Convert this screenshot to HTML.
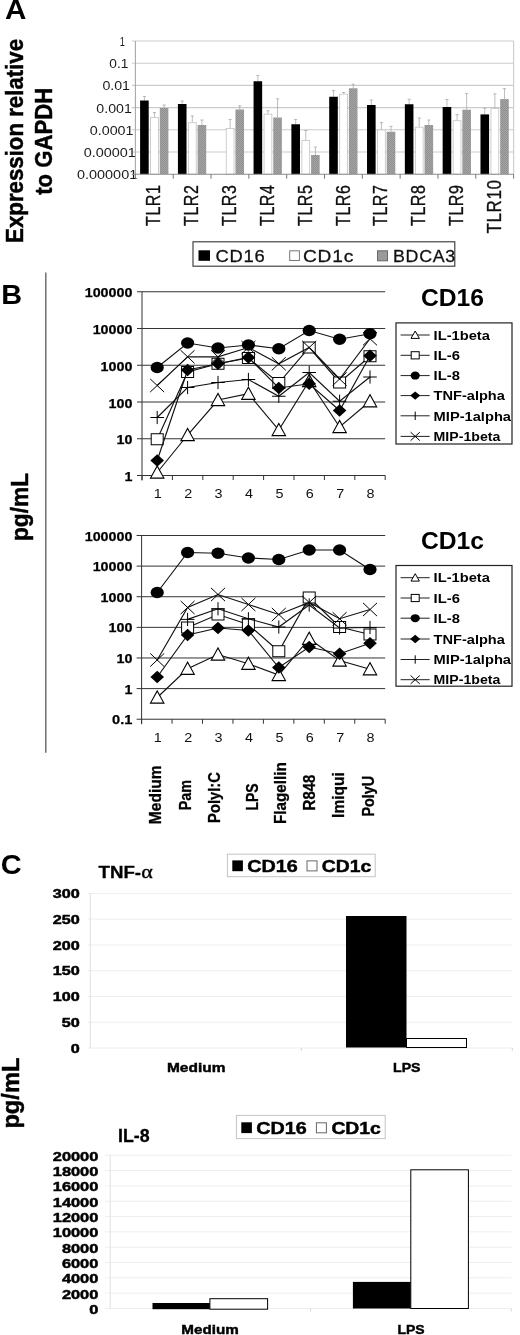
<!DOCTYPE html>
<html><head><meta charset="utf-8"><title>Figure</title>
<style>
html,body{margin:0;padding:0;background:#fff;}
body{width:520px;height:1335px;overflow:hidden;font-family:"Liberation Sans",sans-serif;}
svg{display:block;filter:blur(0.4px);}
</style></head><body>
<svg width="520" height="1335" viewBox="0 0 520 1335">
<rect width="520" height="1335" fill="#fff"/>
<text x="4.90" y="19.40" font-family="Liberation Sans" font-size="27" font-weight="bold" text-anchor="start" fill="#000" textLength="21.40" lengthAdjust="spacingAndGlyphs">A</text>
<text transform="translate(23.40,140.90) rotate(-90)" font-family="Liberation Sans" font-size="24" font-weight="bold" text-anchor="middle" fill="#000" textLength="204.00" lengthAdjust="spacingAndGlyphs" stroke="#000" stroke-width="0.45">Expression relative</text>
<text transform="translate(51.60,141.30) rotate(-90)" font-family="Liberation Sans" font-size="24" font-weight="bold" text-anchor="middle" fill="#000" textLength="107.00" lengthAdjust="spacingAndGlyphs" stroke="#000" stroke-width="0.45">to GAPDH</text>
<line x1="131.80" y1="41.00" x2="513.60" y2="41.00" stroke="#cbcbcb" stroke-width="1.1"/>
<text x="119.70" y="46.00" font-family="Liberation Sans" font-size="12" font-weight="normal" text-anchor="start" fill="#1a1a1a" textLength="5.20" lengthAdjust="spacingAndGlyphs">1</text>
<line x1="131.80" y1="63.20" x2="513.60" y2="63.20" stroke="#cbcbcb" stroke-width="1.1"/>
<text x="109.30" y="68.20" font-family="Liberation Sans" font-size="12" font-weight="normal" text-anchor="start" fill="#1a1a1a" textLength="19.00" lengthAdjust="spacingAndGlyphs">0.1</text>
<line x1="131.80" y1="85.40" x2="513.60" y2="85.40" stroke="#cbcbcb" stroke-width="1.1"/>
<text x="102.40" y="90.40" font-family="Liberation Sans" font-size="12" font-weight="normal" text-anchor="start" fill="#1a1a1a" textLength="27.60" lengthAdjust="spacingAndGlyphs">0.01</text>
<line x1="131.80" y1="107.60" x2="513.60" y2="107.60" stroke="#cbcbcb" stroke-width="1.1"/>
<text x="96.30" y="112.60" font-family="Liberation Sans" font-size="12" font-weight="normal" text-anchor="start" fill="#1a1a1a" textLength="35.50" lengthAdjust="spacingAndGlyphs">0.001</text>
<line x1="131.80" y1="129.80" x2="513.60" y2="129.80" stroke="#cbcbcb" stroke-width="1.1"/>
<text x="89.80" y="134.80" font-family="Liberation Sans" font-size="12" font-weight="normal" text-anchor="start" fill="#1a1a1a" textLength="43.70" lengthAdjust="spacingAndGlyphs">0.0001</text>
<line x1="131.80" y1="152.00" x2="513.60" y2="152.00" stroke="#cbcbcb" stroke-width="1.1"/>
<text x="83.70" y="157.00" font-family="Liberation Sans" font-size="12" font-weight="normal" text-anchor="start" fill="#1a1a1a" textLength="52.10" lengthAdjust="spacingAndGlyphs">0.00001</text>
<text x="77.00" y="179.20" font-family="Liberation Sans" font-size="12" font-weight="normal" text-anchor="start" fill="#1a1a1a" textLength="60.20" lengthAdjust="spacingAndGlyphs">0.000001</text>
<line x1="513.60" y1="41.00" x2="513.60" y2="174.20" stroke="#cfcfcf" stroke-width="1.2"/>
<defs><pattern id="hatch" width="2" height="2" patternUnits="userSpaceOnUse"><rect width="2" height="2" fill="#a4a4a4"/><rect width="1" height="1" fill="#909090"/><rect x="1" y="1" width="1" height="1" fill="#909090"/></pattern></defs>
<line x1="144.40" y1="96.50" x2="144.40" y2="100.50" stroke="#a0a0a0" stroke-width="0.7"/>
<line x1="142.80" y1="96.50" x2="146.00" y2="96.50" stroke="#a0a0a0" stroke-width="0.7"/>
<rect x="140.10" y="100.50" width="8.60" height="73.70" fill="#000"/>
<line x1="154.50" y1="112.50" x2="154.50" y2="117.00" stroke="#a0a0a0" stroke-width="0.7"/>
<line x1="152.90" y1="112.50" x2="156.10" y2="112.50" stroke="#a0a0a0" stroke-width="0.7"/>
<rect x="150.60" y="117.40" width="7.80" height="56.80" fill="#fff" stroke="#c2c2c2" stroke-width="0.8"/>
<line x1="164.10" y1="105.00" x2="164.10" y2="108.00" stroke="#a0a0a0" stroke-width="0.7"/>
<line x1="162.50" y1="105.00" x2="165.70" y2="105.00" stroke="#a0a0a0" stroke-width="0.7"/>
<rect x="159.80" y="108.00" width="8.60" height="66.20" fill="url(#hatch)"/>
<line x1="182.22" y1="101.00" x2="182.22" y2="104.00" stroke="#a0a0a0" stroke-width="0.7"/>
<line x1="180.62" y1="101.00" x2="183.82" y2="101.00" stroke="#a0a0a0" stroke-width="0.7"/>
<rect x="177.92" y="104.00" width="8.60" height="70.20" fill="#000"/>
<line x1="192.32" y1="116.00" x2="192.32" y2="122.30" stroke="#a0a0a0" stroke-width="0.7"/>
<line x1="190.72" y1="116.00" x2="193.92" y2="116.00" stroke="#a0a0a0" stroke-width="0.7"/>
<rect x="188.42" y="122.70" width="7.80" height="51.50" fill="#fff" stroke="#c2c2c2" stroke-width="0.8"/>
<line x1="201.92" y1="120.00" x2="201.92" y2="125.00" stroke="#a0a0a0" stroke-width="0.7"/>
<line x1="200.32" y1="120.00" x2="203.52" y2="120.00" stroke="#a0a0a0" stroke-width="0.7"/>
<rect x="197.62" y="125.00" width="8.60" height="49.20" fill="url(#hatch)"/>
<line x1="230.14" y1="119.50" x2="230.14" y2="128.00" stroke="#a0a0a0" stroke-width="0.7"/>
<line x1="228.54" y1="119.50" x2="231.74" y2="119.50" stroke="#a0a0a0" stroke-width="0.7"/>
<rect x="226.24" y="128.40" width="7.80" height="45.80" fill="#fff" stroke="#c2c2c2" stroke-width="0.8"/>
<line x1="239.74" y1="105.75" x2="239.74" y2="109.50" stroke="#a0a0a0" stroke-width="0.7"/>
<line x1="238.14" y1="105.75" x2="241.34" y2="105.75" stroke="#a0a0a0" stroke-width="0.7"/>
<rect x="235.44" y="109.50" width="8.60" height="64.70" fill="url(#hatch)"/>
<line x1="257.86" y1="75.50" x2="257.86" y2="81.25" stroke="#a0a0a0" stroke-width="0.7"/>
<line x1="256.26" y1="75.50" x2="259.46" y2="75.50" stroke="#a0a0a0" stroke-width="0.7"/>
<rect x="253.56" y="81.25" width="8.60" height="92.95" fill="#000"/>
<line x1="267.96" y1="110.75" x2="267.96" y2="113.75" stroke="#a0a0a0" stroke-width="0.7"/>
<line x1="266.36" y1="110.75" x2="269.56" y2="110.75" stroke="#a0a0a0" stroke-width="0.7"/>
<rect x="264.06" y="114.15" width="7.80" height="60.05" fill="#fff" stroke="#c2c2c2" stroke-width="0.8"/>
<line x1="277.56" y1="98.75" x2="277.56" y2="117.50" stroke="#a0a0a0" stroke-width="0.7"/>
<line x1="275.96" y1="98.75" x2="279.16" y2="98.75" stroke="#a0a0a0" stroke-width="0.7"/>
<rect x="273.26" y="117.50" width="8.60" height="56.70" fill="url(#hatch)"/>
<line x1="295.68" y1="119.50" x2="295.68" y2="124.25" stroke="#a0a0a0" stroke-width="0.7"/>
<line x1="294.08" y1="119.50" x2="297.28" y2="119.50" stroke="#a0a0a0" stroke-width="0.7"/>
<rect x="291.38" y="124.25" width="8.60" height="49.95" fill="#000"/>
<line x1="305.78" y1="130.50" x2="305.78" y2="140.00" stroke="#a0a0a0" stroke-width="0.7"/>
<line x1="304.18" y1="130.50" x2="307.38" y2="130.50" stroke="#a0a0a0" stroke-width="0.7"/>
<rect x="301.88" y="140.40" width="7.80" height="33.80" fill="#fff" stroke="#c2c2c2" stroke-width="0.8"/>
<line x1="315.38" y1="147.00" x2="315.38" y2="155.00" stroke="#a0a0a0" stroke-width="0.7"/>
<line x1="313.78" y1="147.00" x2="316.98" y2="147.00" stroke="#a0a0a0" stroke-width="0.7"/>
<rect x="311.08" y="155.00" width="8.60" height="19.20" fill="url(#hatch)"/>
<line x1="333.50" y1="90.50" x2="333.50" y2="96.75" stroke="#a0a0a0" stroke-width="0.7"/>
<line x1="331.90" y1="90.50" x2="335.10" y2="90.50" stroke="#a0a0a0" stroke-width="0.7"/>
<rect x="329.20" y="96.75" width="8.60" height="77.45" fill="#000"/>
<line x1="343.60" y1="92.50" x2="343.60" y2="93.75" stroke="#a0a0a0" stroke-width="0.7"/>
<line x1="342.00" y1="92.50" x2="345.20" y2="92.50" stroke="#a0a0a0" stroke-width="0.7"/>
<rect x="339.70" y="94.15" width="7.80" height="80.05" fill="#fff" stroke="#c2c2c2" stroke-width="0.8"/>
<line x1="353.20" y1="84.25" x2="353.20" y2="88.25" stroke="#a0a0a0" stroke-width="0.7"/>
<line x1="351.60" y1="84.25" x2="354.80" y2="84.25" stroke="#a0a0a0" stroke-width="0.7"/>
<rect x="348.90" y="88.25" width="8.60" height="85.95" fill="url(#hatch)"/>
<line x1="371.32" y1="100.00" x2="371.32" y2="105.00" stroke="#a0a0a0" stroke-width="0.7"/>
<line x1="369.72" y1="100.00" x2="372.92" y2="100.00" stroke="#a0a0a0" stroke-width="0.7"/>
<rect x="367.02" y="105.00" width="8.60" height="69.20" fill="#000"/>
<line x1="381.42" y1="122.50" x2="381.42" y2="129.50" stroke="#a0a0a0" stroke-width="0.7"/>
<line x1="379.82" y1="122.50" x2="383.02" y2="122.50" stroke="#a0a0a0" stroke-width="0.7"/>
<rect x="377.52" y="129.90" width="7.80" height="44.30" fill="#fff" stroke="#c2c2c2" stroke-width="0.8"/>
<line x1="391.02" y1="126.25" x2="391.02" y2="131.75" stroke="#a0a0a0" stroke-width="0.7"/>
<line x1="389.42" y1="126.25" x2="392.62" y2="126.25" stroke="#a0a0a0" stroke-width="0.7"/>
<rect x="386.72" y="131.75" width="8.60" height="42.45" fill="url(#hatch)"/>
<line x1="409.14" y1="99.25" x2="409.14" y2="104.25" stroke="#a0a0a0" stroke-width="0.7"/>
<line x1="407.54" y1="99.25" x2="410.74" y2="99.25" stroke="#a0a0a0" stroke-width="0.7"/>
<rect x="404.84" y="104.25" width="8.60" height="69.95" fill="#000"/>
<line x1="419.24" y1="118.00" x2="419.24" y2="126.75" stroke="#a0a0a0" stroke-width="0.7"/>
<line x1="417.64" y1="118.00" x2="420.84" y2="118.00" stroke="#a0a0a0" stroke-width="0.7"/>
<rect x="415.34" y="127.15" width="7.80" height="47.05" fill="#fff" stroke="#c2c2c2" stroke-width="0.8"/>
<line x1="428.84" y1="120.00" x2="428.84" y2="125.00" stroke="#a0a0a0" stroke-width="0.7"/>
<line x1="427.24" y1="120.00" x2="430.44" y2="120.00" stroke="#a0a0a0" stroke-width="0.7"/>
<rect x="424.54" y="125.00" width="8.60" height="49.20" fill="url(#hatch)"/>
<line x1="446.96" y1="99.50" x2="446.96" y2="107.00" stroke="#a0a0a0" stroke-width="0.7"/>
<line x1="445.36" y1="99.50" x2="448.56" y2="99.50" stroke="#a0a0a0" stroke-width="0.7"/>
<rect x="442.66" y="107.00" width="8.60" height="67.20" fill="#000"/>
<line x1="457.06" y1="114.60" x2="457.06" y2="120.30" stroke="#a0a0a0" stroke-width="0.7"/>
<line x1="455.46" y1="114.60" x2="458.66" y2="114.60" stroke="#a0a0a0" stroke-width="0.7"/>
<rect x="453.16" y="120.70" width="7.80" height="53.50" fill="#fff" stroke="#c2c2c2" stroke-width="0.8"/>
<line x1="466.66" y1="93.40" x2="466.66" y2="109.70" stroke="#a0a0a0" stroke-width="0.7"/>
<line x1="465.06" y1="93.40" x2="468.26" y2="93.40" stroke="#a0a0a0" stroke-width="0.7"/>
<rect x="462.36" y="109.70" width="8.60" height="64.50" fill="url(#hatch)"/>
<line x1="484.78" y1="108.20" x2="484.78" y2="114.40" stroke="#a0a0a0" stroke-width="0.7"/>
<line x1="483.18" y1="108.20" x2="486.38" y2="108.20" stroke="#a0a0a0" stroke-width="0.7"/>
<rect x="480.48" y="114.40" width="8.60" height="59.80" fill="#000"/>
<line x1="494.88" y1="93.80" x2="494.88" y2="108.20" stroke="#a0a0a0" stroke-width="0.7"/>
<line x1="493.28" y1="93.80" x2="496.48" y2="93.80" stroke="#a0a0a0" stroke-width="0.7"/>
<rect x="490.98" y="108.60" width="7.80" height="65.60" fill="#fff" stroke="#c2c2c2" stroke-width="0.8"/>
<line x1="504.48" y1="88.60" x2="504.48" y2="99.10" stroke="#a0a0a0" stroke-width="0.7"/>
<line x1="502.88" y1="88.60" x2="506.08" y2="88.60" stroke="#a0a0a0" stroke-width="0.7"/>
<rect x="500.18" y="99.10" width="8.60" height="75.10" fill="url(#hatch)"/>
<line x1="135.40" y1="41.00" x2="135.40" y2="174.70" stroke="#a8a8a8" stroke-width="1.1"/>
<line x1="131.80" y1="174.20" x2="513.60" y2="174.20" stroke="#8c8c8c" stroke-width="1.1"/>
<line x1="135.40" y1="174.20" x2="135.40" y2="178.70" stroke="#777" stroke-width="1"/>
<line x1="173.22" y1="174.20" x2="173.22" y2="178.70" stroke="#777" stroke-width="1"/>
<line x1="211.04" y1="174.20" x2="211.04" y2="178.70" stroke="#777" stroke-width="1"/>
<line x1="248.86" y1="174.20" x2="248.86" y2="178.70" stroke="#777" stroke-width="1"/>
<line x1="286.68" y1="174.20" x2="286.68" y2="178.70" stroke="#777" stroke-width="1"/>
<line x1="324.50" y1="174.20" x2="324.50" y2="178.70" stroke="#777" stroke-width="1"/>
<line x1="362.32" y1="174.20" x2="362.32" y2="178.70" stroke="#777" stroke-width="1"/>
<line x1="400.14" y1="174.20" x2="400.14" y2="178.70" stroke="#777" stroke-width="1"/>
<line x1="437.96" y1="174.20" x2="437.96" y2="178.70" stroke="#777" stroke-width="1"/>
<line x1="475.78" y1="174.20" x2="475.78" y2="178.70" stroke="#777" stroke-width="1"/>
<line x1="513.60" y1="174.20" x2="513.60" y2="178.70" stroke="#777" stroke-width="1"/>
<text transform="translate(160.41,205.30) rotate(-90)" font-family="Liberation Sans" font-size="19.8" font-weight="normal" text-anchor="middle" fill="#111" textLength="41.25" lengthAdjust="spacingAndGlyphs" stroke="#111" stroke-width="0.35" letter-spacing="0.6">TLR1</text>
<text transform="translate(198.23,205.30) rotate(-90)" font-family="Liberation Sans" font-size="19.8" font-weight="normal" text-anchor="middle" fill="#111" textLength="41.25" lengthAdjust="spacingAndGlyphs" stroke="#111" stroke-width="0.35" letter-spacing="0.6">TLR2</text>
<text transform="translate(236.05,205.30) rotate(-90)" font-family="Liberation Sans" font-size="19.8" font-weight="normal" text-anchor="middle" fill="#111" textLength="41.25" lengthAdjust="spacingAndGlyphs" stroke="#111" stroke-width="0.35" letter-spacing="0.6">TLR3</text>
<text transform="translate(273.87,205.30) rotate(-90)" font-family="Liberation Sans" font-size="19.8" font-weight="normal" text-anchor="middle" fill="#111" textLength="41.25" lengthAdjust="spacingAndGlyphs" stroke="#111" stroke-width="0.35" letter-spacing="0.6">TLR4</text>
<text transform="translate(311.69,205.30) rotate(-90)" font-family="Liberation Sans" font-size="19.8" font-weight="normal" text-anchor="middle" fill="#111" textLength="41.25" lengthAdjust="spacingAndGlyphs" stroke="#111" stroke-width="0.35" letter-spacing="0.6">TLR5</text>
<text transform="translate(349.51,205.30) rotate(-90)" font-family="Liberation Sans" font-size="19.8" font-weight="normal" text-anchor="middle" fill="#111" textLength="41.25" lengthAdjust="spacingAndGlyphs" stroke="#111" stroke-width="0.35" letter-spacing="0.6">TLR6</text>
<text transform="translate(387.33,205.30) rotate(-90)" font-family="Liberation Sans" font-size="19.8" font-weight="normal" text-anchor="middle" fill="#111" textLength="41.25" lengthAdjust="spacingAndGlyphs" stroke="#111" stroke-width="0.35" letter-spacing="0.6">TLR7</text>
<text transform="translate(425.15,205.30) rotate(-90)" font-family="Liberation Sans" font-size="19.8" font-weight="normal" text-anchor="middle" fill="#111" textLength="41.25" lengthAdjust="spacingAndGlyphs" stroke="#111" stroke-width="0.35" letter-spacing="0.6">TLR8</text>
<text transform="translate(462.97,205.30) rotate(-90)" font-family="Liberation Sans" font-size="19.8" font-weight="normal" text-anchor="middle" fill="#111" textLength="41.25" lengthAdjust="spacingAndGlyphs" stroke="#111" stroke-width="0.35" letter-spacing="0.6">TLR9</text>
<text transform="translate(500.79,206.50) rotate(-90)" font-family="Liberation Sans" font-size="19.8" font-weight="normal" text-anchor="middle" fill="#111" textLength="54.00" lengthAdjust="spacingAndGlyphs" stroke="#111" stroke-width="0.35" letter-spacing="0.6">TLR10</text>
<rect x="193.00" y="241.80" width="261.80" height="24.40" fill="#fff" stroke="#333" stroke-width="1.1"/>
<rect x="198.50" y="250.30" width="11.50" height="10.50" fill="#000"/>
<text x="215.40" y="262.30" font-family="Liberation Sans" font-size="17.4" font-weight="normal" text-anchor="start" fill="#111" textLength="50.00" lengthAdjust="spacingAndGlyphs" stroke="#111" stroke-width="0.3" letter-spacing="0.7">CD16</text>
<rect x="289.70" y="250.80" width="9.70" height="9.70" fill="#fff" stroke="#777" stroke-width="1"/>
<text x="303.00" y="262.30" font-family="Liberation Sans" font-size="17.4" font-weight="normal" text-anchor="start" fill="#111" textLength="51.00" lengthAdjust="spacingAndGlyphs" stroke="#111" stroke-width="0.3" letter-spacing="0.7">CD1c</text>
<rect x="377.50" y="250.80" width="10.00" height="10.00" fill="#9a9a9a" stroke="#666" stroke-width="1"/>
<text x="393.00" y="262.30" font-family="Liberation Sans" font-size="17.4" font-weight="normal" text-anchor="start" fill="#111" textLength="63.00" lengthAdjust="spacingAndGlyphs" stroke="#111" stroke-width="0.3" letter-spacing="0.7">BDCA3</text>
<text x="1.20" y="303.80" font-family="Liberation Sans" font-size="27" font-weight="bold" text-anchor="start" fill="#000" textLength="20.80" lengthAdjust="spacingAndGlyphs">B</text>
<line x1="45.80" y1="272.50" x2="45.80" y2="752.80" stroke="#666" stroke-width="1.4"/>
<text transform="translate(28.30,507.00) rotate(-90)" font-family="Liberation Sans" font-size="24" font-weight="bold" text-anchor="middle" fill="#000" textLength="68.00" lengthAdjust="spacingAndGlyphs" stroke="#000" stroke-width="0.45">pg/mL</text>
<line x1="137.00" y1="291.75" x2="385.20" y2="291.75" stroke="#333" stroke-width="1"/>
<text x="132.40" y="297.25" font-family="Liberation Sans" font-size="13.3" font-weight="bold" text-anchor="end" fill="#000" textLength="47.70" lengthAdjust="spacingAndGlyphs" stroke="#000" stroke-width="0.25">100000</text>
<line x1="137.00" y1="328.50" x2="385.20" y2="328.50" stroke="#333" stroke-width="1"/>
<text x="132.40" y="334.00" font-family="Liberation Sans" font-size="13.3" font-weight="bold" text-anchor="end" fill="#000" textLength="39.75" lengthAdjust="spacingAndGlyphs" stroke="#000" stroke-width="0.25">10000</text>
<line x1="137.00" y1="365.25" x2="385.20" y2="365.25" stroke="#333" stroke-width="1"/>
<text x="132.40" y="370.75" font-family="Liberation Sans" font-size="13.3" font-weight="bold" text-anchor="end" fill="#000" textLength="31.80" lengthAdjust="spacingAndGlyphs" stroke="#000" stroke-width="0.25">1000</text>
<line x1="137.00" y1="402.00" x2="385.20" y2="402.00" stroke="#333" stroke-width="1"/>
<text x="132.40" y="407.50" font-family="Liberation Sans" font-size="13.3" font-weight="bold" text-anchor="end" fill="#000" textLength="23.85" lengthAdjust="spacingAndGlyphs" stroke="#000" stroke-width="0.25">100</text>
<line x1="137.00" y1="438.75" x2="385.20" y2="438.75" stroke="#333" stroke-width="1"/>
<text x="132.40" y="444.25" font-family="Liberation Sans" font-size="13.3" font-weight="bold" text-anchor="end" fill="#000" textLength="15.90" lengthAdjust="spacingAndGlyphs" stroke="#000" stroke-width="0.25">10</text>
<line x1="137.00" y1="475.50" x2="385.20" y2="475.50" stroke="#333" stroke-width="1"/>
<text x="132.40" y="481.00" font-family="Liberation Sans" font-size="13.3" font-weight="bold" text-anchor="end" fill="#000" textLength="7.95" lengthAdjust="spacingAndGlyphs" stroke="#000" stroke-width="0.25">1</text>
<line x1="142.00" y1="291.75" x2="142.00" y2="480.50" stroke="#333" stroke-width="1"/>
<line x1="142.00" y1="475.50" x2="142.00" y2="480.00" stroke="#333" stroke-width="1"/>
<line x1="172.40" y1="475.50" x2="172.40" y2="480.00" stroke="#333" stroke-width="1"/>
<line x1="202.80" y1="475.50" x2="202.80" y2="480.00" stroke="#333" stroke-width="1"/>
<line x1="233.20" y1="475.50" x2="233.20" y2="480.00" stroke="#333" stroke-width="1"/>
<line x1="263.60" y1="475.50" x2="263.60" y2="480.00" stroke="#333" stroke-width="1"/>
<line x1="294.00" y1="475.50" x2="294.00" y2="480.00" stroke="#333" stroke-width="1"/>
<line x1="324.40" y1="475.50" x2="324.40" y2="480.00" stroke="#333" stroke-width="1"/>
<line x1="354.80" y1="475.50" x2="354.80" y2="480.00" stroke="#333" stroke-width="1"/>
<line x1="385.20" y1="475.50" x2="385.20" y2="480.00" stroke="#333" stroke-width="1"/>
<path d="M157.20 472.50 L187.60 435.00 L218.00 400.00 L248.40 393.75 L278.80 430.00 L309.20 381.00 L339.60 427.00 L370.00 401.25" fill="none" stroke="#111" stroke-width="1.15"/>
<path d="M150.50 478.10 L163.90 478.10 L157.20 465.90 Z" fill="#fff" stroke="#000" stroke-width="1.1"/>
<path d="M180.90 440.60 L194.30 440.60 L187.60 428.40 Z" fill="#fff" stroke="#000" stroke-width="1.1"/>
<path d="M211.30 405.60 L224.70 405.60 L218.00 393.40 Z" fill="#fff" stroke="#000" stroke-width="1.1"/>
<path d="M241.70 399.35 L255.10 399.35 L248.40 387.15 Z" fill="#fff" stroke="#000" stroke-width="1.1"/>
<path d="M272.10 435.60 L285.50 435.60 L278.80 423.40 Z" fill="#fff" stroke="#000" stroke-width="1.1"/>
<path d="M302.50 386.60 L315.90 386.60 L309.20 374.40 Z" fill="#fff" stroke="#000" stroke-width="1.1"/>
<path d="M332.90 432.60 L346.30 432.60 L339.60 420.40 Z" fill="#fff" stroke="#000" stroke-width="1.1"/>
<path d="M363.30 406.85 L376.70 406.85 L370.00 394.65 Z" fill="#fff" stroke="#000" stroke-width="1.1"/>
<path d="M157.20 439.25 L187.60 372.00 L218.00 363.75 L248.40 358.00 L278.80 383.00 L309.20 347.50 L339.60 382.50 L370.00 356.25" fill="none" stroke="#111" stroke-width="1.15"/>
<rect x="151.20" y="433.75" width="12.00" height="11.00" fill="#fff" stroke="#000" stroke-width="1"/>
<rect x="181.60" y="366.50" width="12.00" height="11.00" fill="#fff" stroke="#000" stroke-width="1"/>
<rect x="212.00" y="358.25" width="12.00" height="11.00" fill="#fff" stroke="#000" stroke-width="1"/>
<rect x="242.40" y="352.50" width="12.00" height="11.00" fill="#fff" stroke="#000" stroke-width="1"/>
<rect x="272.80" y="377.50" width="12.00" height="11.00" fill="#fff" stroke="#000" stroke-width="1"/>
<rect x="303.20" y="342.00" width="12.00" height="11.00" fill="#fff" stroke="#000" stroke-width="1"/>
<rect x="333.60" y="377.00" width="12.00" height="11.00" fill="#fff" stroke="#000" stroke-width="1"/>
<rect x="364.00" y="350.75" width="12.00" height="11.00" fill="#fff" stroke="#000" stroke-width="1"/>
<path d="M157.20 367.50 L187.60 343.00 L218.00 348.00 L248.40 345.00 L278.80 348.75 L309.20 330.50 L339.60 339.25 L370.00 333.75" fill="none" stroke="#111" stroke-width="1.15"/>
<ellipse cx="157.20" cy="367.50" rx="6.6" ry="5.8" fill="#000"/>
<ellipse cx="187.60" cy="343.00" rx="6.6" ry="5.8" fill="#000"/>
<ellipse cx="218.00" cy="348.00" rx="6.6" ry="5.8" fill="#000"/>
<ellipse cx="248.40" cy="345.00" rx="6.6" ry="5.8" fill="#000"/>
<ellipse cx="278.80" cy="348.75" rx="6.6" ry="5.8" fill="#000"/>
<ellipse cx="309.20" cy="330.50" rx="6.6" ry="5.8" fill="#000"/>
<ellipse cx="339.60" cy="339.25" rx="6.6" ry="5.8" fill="#000"/>
<ellipse cx="370.00" cy="333.75" rx="6.6" ry="5.8" fill="#000"/>
<path d="M157.20 460.50 L187.60 370.00 L218.00 363.75 L248.40 357.50 L278.80 388.00 L309.20 383.75 L339.60 410.50 L370.00 355.75" fill="none" stroke="#111" stroke-width="1.15"/>
<path d="M150.40 460.50 L157.20 454.30 L164.00 460.50 L157.20 466.70 Z" fill="#000"/>
<path d="M180.80 370.00 L187.60 363.80 L194.40 370.00 L187.60 376.20 Z" fill="#000"/>
<path d="M211.20 363.75 L218.00 357.55 L224.80 363.75 L218.00 369.95 Z" fill="#000"/>
<path d="M241.60 357.50 L248.40 351.30 L255.20 357.50 L248.40 363.70 Z" fill="#000"/>
<path d="M272.00 388.00 L278.80 381.80 L285.60 388.00 L278.80 394.20 Z" fill="#000"/>
<path d="M302.40 383.75 L309.20 377.55 L316.00 383.75 L309.20 389.95 Z" fill="#000"/>
<path d="M332.80 410.50 L339.60 404.30 L346.40 410.50 L339.60 416.70 Z" fill="#000"/>
<path d="M363.20 355.75 L370.00 349.55 L376.80 355.75 L370.00 361.95 Z" fill="#000"/>
<path d="M157.20 417.50 L187.60 387.50 L218.00 382.50 L248.40 379.50 L278.80 396.25 L309.20 372.50 L339.60 401.25 L370.00 377.00" fill="none" stroke="#111" stroke-width="1.15"/>
<line x1="150.40" y1="417.50" x2="164.00" y2="417.50" stroke="#000" stroke-width="1"/>
<line x1="157.20" y1="410.90" x2="157.20" y2="424.10" stroke="#000" stroke-width="1"/>
<line x1="180.80" y1="387.50" x2="194.40" y2="387.50" stroke="#000" stroke-width="1"/>
<line x1="187.60" y1="380.90" x2="187.60" y2="394.10" stroke="#000" stroke-width="1"/>
<line x1="211.20" y1="382.50" x2="224.80" y2="382.50" stroke="#000" stroke-width="1"/>
<line x1="218.00" y1="375.90" x2="218.00" y2="389.10" stroke="#000" stroke-width="1"/>
<line x1="241.60" y1="379.50" x2="255.20" y2="379.50" stroke="#000" stroke-width="1"/>
<line x1="248.40" y1="372.90" x2="248.40" y2="386.10" stroke="#000" stroke-width="1"/>
<line x1="272.00" y1="396.25" x2="285.60" y2="396.25" stroke="#000" stroke-width="1"/>
<line x1="278.80" y1="389.65" x2="278.80" y2="402.85" stroke="#000" stroke-width="1"/>
<line x1="302.40" y1="372.50" x2="316.00" y2="372.50" stroke="#000" stroke-width="1"/>
<line x1="309.20" y1="365.90" x2="309.20" y2="379.10" stroke="#000" stroke-width="1"/>
<line x1="332.80" y1="401.25" x2="346.40" y2="401.25" stroke="#000" stroke-width="1"/>
<line x1="339.60" y1="394.65" x2="339.60" y2="407.85" stroke="#000" stroke-width="1"/>
<line x1="363.20" y1="377.00" x2="376.80" y2="377.00" stroke="#000" stroke-width="1"/>
<line x1="370.00" y1="370.40" x2="370.00" y2="383.60" stroke="#000" stroke-width="1"/>
<path d="M157.20 385.50 L187.60 356.80 L218.00 356.80 L248.40 347.50 L278.80 363.75 L309.20 347.50 L339.60 379.00 L370.00 338.75" fill="none" stroke="#111" stroke-width="1.15"/>
<line x1="150.20" y1="378.90" x2="164.20" y2="392.10" stroke="#000" stroke-width="1"/>
<line x1="150.20" y1="392.10" x2="164.20" y2="378.90" stroke="#000" stroke-width="1"/>
<line x1="180.60" y1="350.20" x2="194.60" y2="363.40" stroke="#000" stroke-width="1"/>
<line x1="180.60" y1="363.40" x2="194.60" y2="350.20" stroke="#000" stroke-width="1"/>
<line x1="211.00" y1="350.20" x2="225.00" y2="363.40" stroke="#000" stroke-width="1"/>
<line x1="211.00" y1="363.40" x2="225.00" y2="350.20" stroke="#000" stroke-width="1"/>
<line x1="241.40" y1="340.90" x2="255.40" y2="354.10" stroke="#000" stroke-width="1"/>
<line x1="241.40" y1="354.10" x2="255.40" y2="340.90" stroke="#000" stroke-width="1"/>
<line x1="271.80" y1="357.15" x2="285.80" y2="370.35" stroke="#000" stroke-width="1"/>
<line x1="271.80" y1="370.35" x2="285.80" y2="357.15" stroke="#000" stroke-width="1"/>
<line x1="302.20" y1="340.90" x2="316.20" y2="354.10" stroke="#000" stroke-width="1"/>
<line x1="302.20" y1="354.10" x2="316.20" y2="340.90" stroke="#000" stroke-width="1"/>
<line x1="332.60" y1="372.40" x2="346.60" y2="385.60" stroke="#000" stroke-width="1"/>
<line x1="332.60" y1="385.60" x2="346.60" y2="372.40" stroke="#000" stroke-width="1"/>
<line x1="363.00" y1="332.15" x2="377.00" y2="345.35" stroke="#000" stroke-width="1"/>
<line x1="363.00" y1="345.35" x2="377.00" y2="332.15" stroke="#000" stroke-width="1"/>
<text x="157.80" y="498.00" font-family="Liberation Sans" font-size="12.5" font-weight="normal" text-anchor="middle" fill="#111" textLength="8.00" lengthAdjust="spacingAndGlyphs">1</text>
<text x="188.20" y="498.00" font-family="Liberation Sans" font-size="12.5" font-weight="normal" text-anchor="middle" fill="#111" textLength="8.00" lengthAdjust="spacingAndGlyphs">2</text>
<text x="218.60" y="498.00" font-family="Liberation Sans" font-size="12.5" font-weight="normal" text-anchor="middle" fill="#111" textLength="8.00" lengthAdjust="spacingAndGlyphs">3</text>
<text x="249.00" y="498.00" font-family="Liberation Sans" font-size="12.5" font-weight="normal" text-anchor="middle" fill="#111" textLength="8.00" lengthAdjust="spacingAndGlyphs">4</text>
<text x="279.40" y="498.00" font-family="Liberation Sans" font-size="12.5" font-weight="normal" text-anchor="middle" fill="#111" textLength="8.00" lengthAdjust="spacingAndGlyphs">5</text>
<text x="309.80" y="498.00" font-family="Liberation Sans" font-size="12.5" font-weight="normal" text-anchor="middle" fill="#111" textLength="8.00" lengthAdjust="spacingAndGlyphs">6</text>
<text x="340.20" y="498.00" font-family="Liberation Sans" font-size="12.5" font-weight="normal" text-anchor="middle" fill="#111" textLength="8.00" lengthAdjust="spacingAndGlyphs">7</text>
<text x="370.60" y="498.00" font-family="Liberation Sans" font-size="12.5" font-weight="normal" text-anchor="middle" fill="#111" textLength="8.00" lengthAdjust="spacingAndGlyphs">8</text>
<text x="452.50" y="306.00" font-family="Liberation Sans" font-size="23" font-weight="bold" text-anchor="middle" fill="#000" textLength="63.00" lengthAdjust="spacingAndGlyphs">CD16</text>
<rect x="396.00" y="322.90" width="116.00" height="121.10" fill="#fff" stroke="#222" stroke-width="1.2"/>
<line x1="400.60" y1="335.00" x2="429.70" y2="335.00" stroke="#222" stroke-width="1"/>
<path d="M411.00 338.40 L419.40 338.40 L415.20 331.00 Z" fill="#fff" stroke="#000" stroke-width="1"/>
<text x="433.60" y="339.70" font-family="Liberation Sans" font-size="13.4" font-weight="bold" text-anchor="start" fill="#000" textLength="56.30" lengthAdjust="spacingAndGlyphs">IL-1beta</text>
<line x1="400.60" y1="355.30" x2="429.70" y2="355.30" stroke="#222" stroke-width="1"/>
<rect x="411.20" y="351.70" width="8.00" height="7.20" fill="#fff" stroke="#000" stroke-width="1"/>
<text x="433.60" y="360.00" font-family="Liberation Sans" font-size="13.4" font-weight="bold" text-anchor="start" fill="#000" textLength="26.30" lengthAdjust="spacingAndGlyphs">IL-6</text>
<line x1="400.60" y1="375.60" x2="429.70" y2="375.60" stroke="#222" stroke-width="1"/>
<ellipse cx="415.2" cy="375.6" rx="4.6" ry="4" fill="#000"/>
<text x="433.60" y="380.30" font-family="Liberation Sans" font-size="13.4" font-weight="bold" text-anchor="start" fill="#000" textLength="26.30" lengthAdjust="spacingAndGlyphs">IL-8</text>
<line x1="400.60" y1="395.60" x2="429.70" y2="395.60" stroke="#222" stroke-width="1"/>
<path d="M410.20 395.60 L415.20 391.40 L420.20 395.60 L415.20 399.80 Z" fill="#000"/>
<text x="433.60" y="400.30" font-family="Liberation Sans" font-size="13.4" font-weight="bold" text-anchor="start" fill="#000" textLength="71.30" lengthAdjust="spacingAndGlyphs">TNF-alpha</text>
<line x1="400.60" y1="415.80" x2="429.70" y2="415.80" stroke="#222" stroke-width="1"/>
<line x1="415.20" y1="411.60" x2="415.20" y2="420.00" stroke="#000" stroke-width="1"/>
<text x="433.60" y="420.50" font-family="Liberation Sans" font-size="13.4" font-weight="bold" text-anchor="start" fill="#000" textLength="77.40" lengthAdjust="spacingAndGlyphs">MIP-1alpha</text>
<line x1="400.60" y1="436.40" x2="429.70" y2="436.40" stroke="#222" stroke-width="1"/>
<line x1="410.60" y1="432.20" x2="419.80" y2="440.60" stroke="#000" stroke-width="1"/>
<line x1="410.60" y1="440.60" x2="419.80" y2="432.20" stroke="#000" stroke-width="1"/>
<text x="433.60" y="441.10" font-family="Liberation Sans" font-size="13.4" font-weight="bold" text-anchor="start" fill="#000" textLength="66.80" lengthAdjust="spacingAndGlyphs">MIP-1beta</text>
<line x1="136.60" y1="535.50" x2="385.20" y2="535.50" stroke="#333" stroke-width="1"/>
<text x="132.40" y="540.50" font-family="Liberation Sans" font-size="13.3" font-weight="bold" text-anchor="end" fill="#000" textLength="47.70" lengthAdjust="spacingAndGlyphs" stroke="#000" stroke-width="0.25">100000</text>
<line x1="136.60" y1="566.12" x2="385.20" y2="566.12" stroke="#333" stroke-width="1"/>
<text x="132.40" y="571.12" font-family="Liberation Sans" font-size="13.3" font-weight="bold" text-anchor="end" fill="#000" textLength="39.75" lengthAdjust="spacingAndGlyphs" stroke="#000" stroke-width="0.25">10000</text>
<line x1="136.60" y1="596.74" x2="385.20" y2="596.74" stroke="#333" stroke-width="1"/>
<text x="132.40" y="601.74" font-family="Liberation Sans" font-size="13.3" font-weight="bold" text-anchor="end" fill="#000" textLength="31.80" lengthAdjust="spacingAndGlyphs" stroke="#000" stroke-width="0.25">1000</text>
<line x1="136.60" y1="627.36" x2="385.20" y2="627.36" stroke="#333" stroke-width="1"/>
<text x="132.40" y="632.36" font-family="Liberation Sans" font-size="13.3" font-weight="bold" text-anchor="end" fill="#000" textLength="23.85" lengthAdjust="spacingAndGlyphs" stroke="#000" stroke-width="0.25">100</text>
<line x1="136.60" y1="657.98" x2="385.20" y2="657.98" stroke="#333" stroke-width="1"/>
<text x="132.40" y="662.98" font-family="Liberation Sans" font-size="13.3" font-weight="bold" text-anchor="end" fill="#000" textLength="15.90" lengthAdjust="spacingAndGlyphs" stroke="#000" stroke-width="0.25">10</text>
<line x1="136.60" y1="688.60" x2="385.20" y2="688.60" stroke="#333" stroke-width="1"/>
<text x="132.40" y="693.60" font-family="Liberation Sans" font-size="13.3" font-weight="bold" text-anchor="end" fill="#000" textLength="7.95" lengthAdjust="spacingAndGlyphs" stroke="#000" stroke-width="0.25">1</text>
<line x1="136.60" y1="719.22" x2="385.20" y2="719.22" stroke="#333" stroke-width="1"/>
<text x="132.40" y="724.22" font-family="Liberation Sans" font-size="13.3" font-weight="bold" text-anchor="end" fill="#000" textLength="20.35" lengthAdjust="spacingAndGlyphs" stroke="#000" stroke-width="0.25">0.1</text>
<line x1="141.60" y1="535.50" x2="141.60" y2="724.22" stroke="#333" stroke-width="1"/>
<line x1="141.60" y1="719.22" x2="141.60" y2="723.72" stroke="#333" stroke-width="1"/>
<line x1="172.05" y1="719.22" x2="172.05" y2="723.72" stroke="#333" stroke-width="1"/>
<line x1="202.50" y1="719.22" x2="202.50" y2="723.72" stroke="#333" stroke-width="1"/>
<line x1="232.95" y1="719.22" x2="232.95" y2="723.72" stroke="#333" stroke-width="1"/>
<line x1="263.40" y1="719.22" x2="263.40" y2="723.72" stroke="#333" stroke-width="1"/>
<line x1="293.85" y1="719.22" x2="293.85" y2="723.72" stroke="#333" stroke-width="1"/>
<line x1="324.30" y1="719.22" x2="324.30" y2="723.72" stroke="#333" stroke-width="1"/>
<line x1="354.75" y1="719.22" x2="354.75" y2="723.72" stroke="#333" stroke-width="1"/>
<line x1="385.20" y1="719.22" x2="385.20" y2="723.72" stroke="#333" stroke-width="1"/>
<path d="M157.20 697.50 L187.60 668.75 L218.00 654.50 L248.40 663.75 L278.80 675.00 L309.20 638.75 L339.60 660.50 L370.00 669.25" fill="none" stroke="#111" stroke-width="1.15"/>
<path d="M150.50 703.10 L163.90 703.10 L157.20 690.90 Z" fill="#fff" stroke="#000" stroke-width="1.1"/>
<path d="M180.90 674.35 L194.30 674.35 L187.60 662.15 Z" fill="#fff" stroke="#000" stroke-width="1.1"/>
<path d="M211.30 660.10 L224.70 660.10 L218.00 647.90 Z" fill="#fff" stroke="#000" stroke-width="1.1"/>
<path d="M241.70 669.35 L255.10 669.35 L248.40 657.15 Z" fill="#fff" stroke="#000" stroke-width="1.1"/>
<path d="M272.10 680.60 L285.50 680.60 L278.80 668.40 Z" fill="#fff" stroke="#000" stroke-width="1.1"/>
<path d="M302.50 644.35 L315.90 644.35 L309.20 632.15 Z" fill="#fff" stroke="#000" stroke-width="1.1"/>
<path d="M332.90 666.10 L346.30 666.10 L339.60 653.90 Z" fill="#fff" stroke="#000" stroke-width="1.1"/>
<path d="M363.30 674.85 L376.70 674.85 L370.00 662.65 Z" fill="#fff" stroke="#000" stroke-width="1.1"/>
<path d="M187.60 627.50 L218.00 614.50 L248.40 624.50 L278.80 651.25 L309.20 597.50 L339.60 627.00 L370.00 634.50" fill="none" stroke="#111" stroke-width="1.15"/>
<rect x="181.60" y="622.00" width="12.00" height="11.00" fill="#fff" stroke="#000" stroke-width="1"/>
<rect x="212.00" y="609.00" width="12.00" height="11.00" fill="#fff" stroke="#000" stroke-width="1"/>
<rect x="242.40" y="619.00" width="12.00" height="11.00" fill="#fff" stroke="#000" stroke-width="1"/>
<rect x="272.80" y="645.75" width="12.00" height="11.00" fill="#fff" stroke="#000" stroke-width="1"/>
<rect x="303.20" y="592.00" width="12.00" height="11.00" fill="#fff" stroke="#000" stroke-width="1"/>
<rect x="333.60" y="621.50" width="12.00" height="11.00" fill="#fff" stroke="#000" stroke-width="1"/>
<rect x="364.00" y="629.00" width="12.00" height="11.00" fill="#fff" stroke="#000" stroke-width="1"/>
<path d="M157.20 592.50 L187.60 552.50 L218.00 553.25 L248.40 558.00 L278.80 559.50 L309.20 550.00 L339.60 550.00 L370.00 569.50" fill="none" stroke="#111" stroke-width="1.15"/>
<ellipse cx="157.20" cy="592.50" rx="6.6" ry="5.8" fill="#000"/>
<ellipse cx="187.60" cy="552.50" rx="6.6" ry="5.8" fill="#000"/>
<ellipse cx="218.00" cy="553.25" rx="6.6" ry="5.8" fill="#000"/>
<ellipse cx="248.40" cy="558.00" rx="6.6" ry="5.8" fill="#000"/>
<ellipse cx="278.80" cy="559.50" rx="6.6" ry="5.8" fill="#000"/>
<ellipse cx="309.20" cy="550.00" rx="6.6" ry="5.8" fill="#000"/>
<ellipse cx="339.60" cy="550.00" rx="6.6" ry="5.8" fill="#000"/>
<ellipse cx="370.00" cy="569.50" rx="6.6" ry="5.8" fill="#000"/>
<path d="M157.20 677.00 L187.60 635.00 L218.00 628.00 L248.40 630.50 L278.80 667.50 L309.20 647.00 L339.60 653.75 L370.00 643.25" fill="none" stroke="#111" stroke-width="1.15"/>
<path d="M150.40 677.00 L157.20 670.80 L164.00 677.00 L157.20 683.20 Z" fill="#000"/>
<path d="M180.80 635.00 L187.60 628.80 L194.40 635.00 L187.60 641.20 Z" fill="#000"/>
<path d="M211.20 628.00 L218.00 621.80 L224.80 628.00 L218.00 634.20 Z" fill="#000"/>
<path d="M241.60 630.50 L248.40 624.30 L255.20 630.50 L248.40 636.70 Z" fill="#000"/>
<path d="M272.00 667.50 L278.80 661.30 L285.60 667.50 L278.80 673.70 Z" fill="#000"/>
<path d="M302.40 647.00 L309.20 640.80 L316.00 647.00 L309.20 653.20 Z" fill="#000"/>
<path d="M332.80 653.75 L339.60 647.55 L346.40 653.75 L339.60 659.95 Z" fill="#000"/>
<path d="M363.20 643.25 L370.00 637.05 L376.80 643.25 L370.00 649.45 Z" fill="#000"/>
<path d="M187.60 619.40 L218.00 608.75 L248.40 618.75 L278.80 627.00 L309.20 605.00 L339.60 628.00 L370.00 627.50" fill="none" stroke="#111" stroke-width="1.15"/>
<line x1="180.80" y1="619.40" x2="194.40" y2="619.40" stroke="#000" stroke-width="1"/>
<line x1="187.60" y1="612.80" x2="187.60" y2="626.00" stroke="#000" stroke-width="1"/>
<line x1="211.20" y1="608.75" x2="224.80" y2="608.75" stroke="#000" stroke-width="1"/>
<line x1="218.00" y1="602.15" x2="218.00" y2="615.35" stroke="#000" stroke-width="1"/>
<line x1="241.60" y1="618.75" x2="255.20" y2="618.75" stroke="#000" stroke-width="1"/>
<line x1="248.40" y1="612.15" x2="248.40" y2="625.35" stroke="#000" stroke-width="1"/>
<line x1="272.00" y1="627.00" x2="285.60" y2="627.00" stroke="#000" stroke-width="1"/>
<line x1="278.80" y1="620.40" x2="278.80" y2="633.60" stroke="#000" stroke-width="1"/>
<line x1="302.40" y1="605.00" x2="316.00" y2="605.00" stroke="#000" stroke-width="1"/>
<line x1="309.20" y1="598.40" x2="309.20" y2="611.60" stroke="#000" stroke-width="1"/>
<line x1="332.80" y1="628.00" x2="346.40" y2="628.00" stroke="#000" stroke-width="1"/>
<line x1="339.60" y1="621.40" x2="339.60" y2="634.60" stroke="#000" stroke-width="1"/>
<line x1="363.20" y1="627.50" x2="376.80" y2="627.50" stroke="#000" stroke-width="1"/>
<line x1="370.00" y1="620.90" x2="370.00" y2="634.10" stroke="#000" stroke-width="1"/>
<path d="M157.20 660.00 L187.60 607.50 L218.00 594.50 L248.40 604.50 L278.80 614.50 L309.20 602.50 L339.60 618.75 L370.00 609.50" fill="none" stroke="#111" stroke-width="1.15"/>
<line x1="150.20" y1="653.40" x2="164.20" y2="666.60" stroke="#000" stroke-width="1"/>
<line x1="150.20" y1="666.60" x2="164.20" y2="653.40" stroke="#000" stroke-width="1"/>
<line x1="180.60" y1="600.90" x2="194.60" y2="614.10" stroke="#000" stroke-width="1"/>
<line x1="180.60" y1="614.10" x2="194.60" y2="600.90" stroke="#000" stroke-width="1"/>
<line x1="211.00" y1="587.90" x2="225.00" y2="601.10" stroke="#000" stroke-width="1"/>
<line x1="211.00" y1="601.10" x2="225.00" y2="587.90" stroke="#000" stroke-width="1"/>
<line x1="241.40" y1="597.90" x2="255.40" y2="611.10" stroke="#000" stroke-width="1"/>
<line x1="241.40" y1="611.10" x2="255.40" y2="597.90" stroke="#000" stroke-width="1"/>
<line x1="271.80" y1="607.90" x2="285.80" y2="621.10" stroke="#000" stroke-width="1"/>
<line x1="271.80" y1="621.10" x2="285.80" y2="607.90" stroke="#000" stroke-width="1"/>
<line x1="302.20" y1="595.90" x2="316.20" y2="609.10" stroke="#000" stroke-width="1"/>
<line x1="302.20" y1="609.10" x2="316.20" y2="595.90" stroke="#000" stroke-width="1"/>
<line x1="332.60" y1="612.15" x2="346.60" y2="625.35" stroke="#000" stroke-width="1"/>
<line x1="332.60" y1="625.35" x2="346.60" y2="612.15" stroke="#000" stroke-width="1"/>
<line x1="363.00" y1="602.90" x2="377.00" y2="616.10" stroke="#000" stroke-width="1"/>
<line x1="363.00" y1="616.10" x2="377.00" y2="602.90" stroke="#000" stroke-width="1"/>
<text x="157.80" y="742.00" font-family="Liberation Sans" font-size="12.5" font-weight="normal" text-anchor="middle" fill="#111" textLength="8.00" lengthAdjust="spacingAndGlyphs">1</text>
<text x="188.20" y="742.00" font-family="Liberation Sans" font-size="12.5" font-weight="normal" text-anchor="middle" fill="#111" textLength="8.00" lengthAdjust="spacingAndGlyphs">2</text>
<text x="218.60" y="742.00" font-family="Liberation Sans" font-size="12.5" font-weight="normal" text-anchor="middle" fill="#111" textLength="8.00" lengthAdjust="spacingAndGlyphs">3</text>
<text x="249.00" y="742.00" font-family="Liberation Sans" font-size="12.5" font-weight="normal" text-anchor="middle" fill="#111" textLength="8.00" lengthAdjust="spacingAndGlyphs">4</text>
<text x="279.40" y="742.00" font-family="Liberation Sans" font-size="12.5" font-weight="normal" text-anchor="middle" fill="#111" textLength="8.00" lengthAdjust="spacingAndGlyphs">5</text>
<text x="309.80" y="742.00" font-family="Liberation Sans" font-size="12.5" font-weight="normal" text-anchor="middle" fill="#111" textLength="8.00" lengthAdjust="spacingAndGlyphs">6</text>
<text x="340.20" y="742.00" font-family="Liberation Sans" font-size="12.5" font-weight="normal" text-anchor="middle" fill="#111" textLength="8.00" lengthAdjust="spacingAndGlyphs">7</text>
<text x="370.60" y="742.00" font-family="Liberation Sans" font-size="12.5" font-weight="normal" text-anchor="middle" fill="#111" textLength="8.00" lengthAdjust="spacingAndGlyphs">8</text>
<text x="452.50" y="548.60" font-family="Liberation Sans" font-size="23" font-weight="bold" text-anchor="middle" fill="#000" textLength="63.00" lengthAdjust="spacingAndGlyphs">CD1c</text>
<rect x="396.00" y="565.50" width="116.00" height="120.70" fill="#fff" stroke="#222" stroke-width="1.2"/>
<line x1="400.60" y1="577.70" x2="429.70" y2="577.70" stroke="#222" stroke-width="1"/>
<path d="M411.00 581.10 L419.40 581.10 L415.20 573.70 Z" fill="#fff" stroke="#000" stroke-width="1"/>
<text x="433.60" y="582.40" font-family="Liberation Sans" font-size="13.4" font-weight="bold" text-anchor="start" fill="#000" textLength="56.30" lengthAdjust="spacingAndGlyphs">IL-1beta</text>
<line x1="400.60" y1="598.00" x2="429.70" y2="598.00" stroke="#222" stroke-width="1"/>
<rect x="411.20" y="594.40" width="8.00" height="7.20" fill="#fff" stroke="#000" stroke-width="1"/>
<text x="433.60" y="602.70" font-family="Liberation Sans" font-size="13.4" font-weight="bold" text-anchor="start" fill="#000" textLength="26.30" lengthAdjust="spacingAndGlyphs">IL-6</text>
<line x1="400.60" y1="618.20" x2="429.70" y2="618.20" stroke="#222" stroke-width="1"/>
<ellipse cx="415.2" cy="618.2" rx="4.6" ry="4" fill="#000"/>
<text x="433.60" y="622.90" font-family="Liberation Sans" font-size="13.4" font-weight="bold" text-anchor="start" fill="#000" textLength="26.30" lengthAdjust="spacingAndGlyphs">IL-8</text>
<line x1="400.60" y1="639.00" x2="429.70" y2="639.00" stroke="#222" stroke-width="1"/>
<path d="M410.20 639.00 L415.20 634.80 L420.20 639.00 L415.20 643.20 Z" fill="#000"/>
<text x="433.60" y="643.70" font-family="Liberation Sans" font-size="13.4" font-weight="bold" text-anchor="start" fill="#000" textLength="71.30" lengthAdjust="spacingAndGlyphs">TNF-alpha</text>
<line x1="400.60" y1="659.50" x2="429.70" y2="659.50" stroke="#222" stroke-width="1"/>
<line x1="415.20" y1="655.30" x2="415.20" y2="663.70" stroke="#000" stroke-width="1"/>
<text x="433.60" y="664.20" font-family="Liberation Sans" font-size="13.4" font-weight="bold" text-anchor="start" fill="#000" textLength="77.40" lengthAdjust="spacingAndGlyphs">MIP-1alpha</text>
<line x1="400.60" y1="679.70" x2="429.70" y2="679.70" stroke="#222" stroke-width="1"/>
<line x1="410.60" y1="675.50" x2="419.80" y2="683.90" stroke="#000" stroke-width="1"/>
<line x1="410.60" y1="683.90" x2="419.80" y2="675.50" stroke="#000" stroke-width="1"/>
<text x="433.60" y="684.40" font-family="Liberation Sans" font-size="13.4" font-weight="bold" text-anchor="start" fill="#000" textLength="66.80" lengthAdjust="spacingAndGlyphs">MIP-1beta</text>
<text transform="translate(161.25,794.75) rotate(-90)" font-family="Liberation Sans" font-size="16.6" font-weight="bold" text-anchor="middle" fill="#000" textLength="58.80" lengthAdjust="spacingAndGlyphs" stroke="#000" stroke-width="0.3">Medium</text>
<text transform="translate(191.25,795.20) rotate(-90)" font-family="Liberation Sans" font-size="16.6" font-weight="bold" text-anchor="middle" fill="#000" textLength="30.30" lengthAdjust="spacingAndGlyphs" stroke="#000" stroke-width="0.3">Pam</text>
<text transform="translate(219.50,797.50) rotate(-90)" font-family="Liberation Sans" font-size="16.6" font-weight="bold" text-anchor="middle" fill="#000" textLength="50.80" lengthAdjust="spacingAndGlyphs" stroke="#000" stroke-width="0.3">PolyI:C</text>
<text transform="translate(257.50,797.00) rotate(-90)" font-family="Liberation Sans" font-size="16.6" font-weight="bold" text-anchor="middle" fill="#000" textLength="27.10" lengthAdjust="spacingAndGlyphs" stroke="#000" stroke-width="0.3">LPS</text>
<text transform="translate(286.25,793.10) rotate(-90)" font-family="Liberation Sans" font-size="16.6" font-weight="bold" text-anchor="middle" fill="#000" textLength="62.05" lengthAdjust="spacingAndGlyphs" stroke="#000" stroke-width="0.3">Flagellin</text>
<text transform="translate(315.00,792.50) rotate(-90)" font-family="Liberation Sans" font-size="16.6" font-weight="bold" text-anchor="middle" fill="#000" textLength="35.80" lengthAdjust="spacingAndGlyphs" stroke="#000" stroke-width="0.3">R848</text>
<text transform="translate(343.75,795.00) rotate(-90)" font-family="Liberation Sans" font-size="16.6" font-weight="bold" text-anchor="middle" fill="#000" textLength="45.80" lengthAdjust="spacingAndGlyphs" stroke="#000" stroke-width="0.3">Imiqui</text>
<text transform="translate(373.75,796.20) rotate(-90)" font-family="Liberation Sans" font-size="16.6" font-weight="bold" text-anchor="middle" fill="#000" textLength="40.80" lengthAdjust="spacingAndGlyphs" stroke="#000" stroke-width="0.3">PolyU</text>
<text x="0.80" y="873.80" font-family="Liberation Sans" font-size="27" font-weight="bold" text-anchor="start" fill="#000" textLength="20.90" lengthAdjust="spacingAndGlyphs">C</text>
<text transform="translate(19.40,1093.10) rotate(-90)" font-family="Liberation Sans" font-size="23.5" font-weight="bold" text-anchor="middle" fill="#000" textLength="71.00" lengthAdjust="spacingAndGlyphs" stroke="#000" stroke-width="0.45">pg/mL</text>
<text x="98.50" y="877.60" font-family="Liberation Sans" font-size="17.4" font-weight="bold" text-anchor="start" fill="#000" textLength="42.60" lengthAdjust="spacingAndGlyphs" stroke="#000" stroke-width="0.3">TNF-</text>
<text x="141.20" y="877.80" font-family="Liberation Serif" font-size="18.5" font-weight="normal" text-anchor="start" fill="#000" textLength="11.50" lengthAdjust="spacingAndGlyphs" stroke="#000" stroke-width="0.35">α</text>
<rect x="227.40" y="854.20" width="147.80" height="22.50" fill="#fff" stroke="#c4c4c4" stroke-width="1"/>
<rect x="232.30" y="860.40" width="10.60" height="10.80" fill="#000"/>
<text x="247.20" y="871.80" font-family="Liberation Sans" font-size="16.5" font-weight="bold" text-anchor="start" fill="#000" textLength="50.50" lengthAdjust="spacingAndGlyphs" stroke="#000" stroke-width="0.45">CD16</text>
<rect x="307.00" y="860.90" width="10.00" height="10.00" fill="#fff" stroke="#666" stroke-width="1"/>
<text x="321.70" y="871.80" font-family="Liberation Sans" font-size="16.5" font-weight="bold" text-anchor="start" fill="#000" textLength="49.50" lengthAdjust="spacingAndGlyphs" stroke="#000" stroke-width="0.45">CD1c</text>
<line x1="87.50" y1="893.40" x2="512.50" y2="893.40" stroke="#eeeeee" stroke-width="1"/>
<text x="79.80" y="898.00" font-family="Liberation Sans" font-size="12" font-weight="bold" text-anchor="end" fill="#000" textLength="27.00" lengthAdjust="spacingAndGlyphs" stroke="#000" stroke-width="0.45">300</text>
<line x1="87.50" y1="919.17" x2="512.50" y2="919.17" stroke="#eeeeee" stroke-width="1"/>
<text x="79.80" y="923.77" font-family="Liberation Sans" font-size="12" font-weight="bold" text-anchor="end" fill="#000" textLength="27.00" lengthAdjust="spacingAndGlyphs" stroke="#000" stroke-width="0.45">250</text>
<line x1="87.50" y1="944.94" x2="512.50" y2="944.94" stroke="#eeeeee" stroke-width="1"/>
<text x="79.80" y="949.54" font-family="Liberation Sans" font-size="12" font-weight="bold" text-anchor="end" fill="#000" textLength="27.00" lengthAdjust="spacingAndGlyphs" stroke="#000" stroke-width="0.45">200</text>
<line x1="87.50" y1="970.71" x2="512.50" y2="970.71" stroke="#eeeeee" stroke-width="1"/>
<text x="79.80" y="975.31" font-family="Liberation Sans" font-size="12" font-weight="bold" text-anchor="end" fill="#000" textLength="27.00" lengthAdjust="spacingAndGlyphs" stroke="#000" stroke-width="0.45">150</text>
<line x1="87.50" y1="996.48" x2="512.50" y2="996.48" stroke="#eeeeee" stroke-width="1"/>
<text x="79.80" y="1001.08" font-family="Liberation Sans" font-size="12" font-weight="bold" text-anchor="end" fill="#000" textLength="27.00" lengthAdjust="spacingAndGlyphs" stroke="#000" stroke-width="0.45">100</text>
<line x1="87.50" y1="1022.25" x2="512.50" y2="1022.25" stroke="#eeeeee" stroke-width="1"/>
<text x="79.80" y="1026.85" font-family="Liberation Sans" font-size="12" font-weight="bold" text-anchor="end" fill="#000" textLength="18.00" lengthAdjust="spacingAndGlyphs" stroke="#000" stroke-width="0.45">50</text>
<line x1="87.50" y1="1048.02" x2="512.50" y2="1048.02" stroke="#eeeeee" stroke-width="1"/>
<text x="79.80" y="1052.62" font-family="Liberation Sans" font-size="12" font-weight="bold" text-anchor="end" fill="#000" textLength="9.00" lengthAdjust="spacingAndGlyphs" stroke="#000" stroke-width="0.45">0</text>
<line x1="90.30" y1="893.00" x2="90.30" y2="1048.00" stroke="#e0e0e0" stroke-width="1"/>
<line x1="301.30" y1="1048.00" x2="301.30" y2="1051.00" stroke="#d8d8d8" stroke-width="1"/>
<line x1="512.30" y1="1048.00" x2="512.30" y2="1051.00" stroke="#d8d8d8" stroke-width="1"/>
<rect x="346.00" y="916.00" width="60.50" height="131.50" fill="#000"/>
<rect x="406.50" y="1038.50" width="60.00" height="9.00" fill="#fff" stroke="#000" stroke-width="1"/>
<text x="196.20" y="1072.40" font-family="Liberation Sans" font-size="13.5" font-weight="bold" text-anchor="middle" fill="#000" textLength="58.50" lengthAdjust="spacingAndGlyphs" stroke="#000" stroke-width="0.45">Medium</text>
<text x="406.80" y="1072.40" font-family="Liberation Sans" font-size="13.5" font-weight="bold" text-anchor="middle" fill="#000" textLength="27.50" lengthAdjust="spacingAndGlyphs" stroke="#000" stroke-width="0.45">LPS</text>
<text x="118.00" y="1141.50" font-family="Liberation Sans" font-size="18.4" font-weight="bold" text-anchor="start" fill="#000" textLength="31.60" lengthAdjust="spacingAndGlyphs" stroke="#000" stroke-width="0.3">IL-8</text>
<rect x="236.40" y="1115.40" width="148.80" height="23.20" fill="#fff" stroke="#c4c4c4" stroke-width="1"/>
<rect x="241.30" y="1122.30" width="10.60" height="10.80" fill="#000"/>
<text x="256.20" y="1134.00" font-family="Liberation Sans" font-size="16.5" font-weight="bold" text-anchor="start" fill="#000" textLength="50.50" lengthAdjust="spacingAndGlyphs" stroke="#000" stroke-width="0.45">CD16</text>
<rect x="316.40" y="1122.80" width="10.00" height="10.00" fill="#fff" stroke="#666" stroke-width="1"/>
<text x="331.40" y="1134.00" font-family="Liberation Sans" font-size="16.5" font-weight="bold" text-anchor="start" fill="#000" textLength="49.50" lengthAdjust="spacingAndGlyphs" stroke="#000" stroke-width="0.45">CD1c</text>
<line x1="105.00" y1="1155.20" x2="511.50" y2="1155.20" stroke="#eeeeee" stroke-width="1"/>
<text x="98.30" y="1160.80" font-family="Liberation Sans" font-size="12" font-weight="bold" text-anchor="end" fill="#000" textLength="45.50" lengthAdjust="spacingAndGlyphs" stroke="#000" stroke-width="0.45">20000</text>
<line x1="105.00" y1="1170.53" x2="511.50" y2="1170.53" stroke="#eeeeee" stroke-width="1"/>
<text x="98.30" y="1176.13" font-family="Liberation Sans" font-size="12" font-weight="bold" text-anchor="end" fill="#000" textLength="45.50" lengthAdjust="spacingAndGlyphs" stroke="#000" stroke-width="0.45">18000</text>
<line x1="105.00" y1="1185.86" x2="511.50" y2="1185.86" stroke="#eeeeee" stroke-width="1"/>
<text x="98.30" y="1191.46" font-family="Liberation Sans" font-size="12" font-weight="bold" text-anchor="end" fill="#000" textLength="45.50" lengthAdjust="spacingAndGlyphs" stroke="#000" stroke-width="0.45">16000</text>
<line x1="105.00" y1="1201.19" x2="511.50" y2="1201.19" stroke="#eeeeee" stroke-width="1"/>
<text x="98.30" y="1206.79" font-family="Liberation Sans" font-size="12" font-weight="bold" text-anchor="end" fill="#000" textLength="45.50" lengthAdjust="spacingAndGlyphs" stroke="#000" stroke-width="0.45">14000</text>
<line x1="105.00" y1="1216.52" x2="511.50" y2="1216.52" stroke="#eeeeee" stroke-width="1"/>
<text x="98.30" y="1222.12" font-family="Liberation Sans" font-size="12" font-weight="bold" text-anchor="end" fill="#000" textLength="45.50" lengthAdjust="spacingAndGlyphs" stroke="#000" stroke-width="0.45">12000</text>
<line x1="105.00" y1="1231.85" x2="511.50" y2="1231.85" stroke="#eeeeee" stroke-width="1"/>
<text x="98.30" y="1237.45" font-family="Liberation Sans" font-size="12" font-weight="bold" text-anchor="end" fill="#000" textLength="45.50" lengthAdjust="spacingAndGlyphs" stroke="#000" stroke-width="0.45">10000</text>
<line x1="105.00" y1="1247.18" x2="511.50" y2="1247.18" stroke="#eeeeee" stroke-width="1"/>
<text x="98.30" y="1252.78" font-family="Liberation Sans" font-size="12" font-weight="bold" text-anchor="end" fill="#000" textLength="36.40" lengthAdjust="spacingAndGlyphs" stroke="#000" stroke-width="0.45">8000</text>
<line x1="105.00" y1="1262.51" x2="511.50" y2="1262.51" stroke="#eeeeee" stroke-width="1"/>
<text x="98.30" y="1268.11" font-family="Liberation Sans" font-size="12" font-weight="bold" text-anchor="end" fill="#000" textLength="36.40" lengthAdjust="spacingAndGlyphs" stroke="#000" stroke-width="0.45">6000</text>
<line x1="105.00" y1="1277.84" x2="511.50" y2="1277.84" stroke="#eeeeee" stroke-width="1"/>
<text x="98.30" y="1283.44" font-family="Liberation Sans" font-size="12" font-weight="bold" text-anchor="end" fill="#000" textLength="36.40" lengthAdjust="spacingAndGlyphs" stroke="#000" stroke-width="0.45">4000</text>
<line x1="105.00" y1="1293.17" x2="511.50" y2="1293.17" stroke="#eeeeee" stroke-width="1"/>
<text x="98.30" y="1298.77" font-family="Liberation Sans" font-size="12" font-weight="bold" text-anchor="end" fill="#000" textLength="36.40" lengthAdjust="spacingAndGlyphs" stroke="#000" stroke-width="0.45">2000</text>
<line x1="105.00" y1="1308.50" x2="511.50" y2="1308.50" stroke="#eeeeee" stroke-width="1"/>
<text x="98.30" y="1314.10" font-family="Liberation Sans" font-size="12" font-weight="bold" text-anchor="end" fill="#000" textLength="9.10" lengthAdjust="spacingAndGlyphs" stroke="#000" stroke-width="0.45">0</text>
<line x1="110.20" y1="1155.00" x2="110.20" y2="1308.50" stroke="#e0e0e0" stroke-width="1"/>
<line x1="310.50" y1="1308.50" x2="310.50" y2="1311.50" stroke="#d8d8d8" stroke-width="1"/>
<line x1="511.30" y1="1308.50" x2="511.30" y2="1311.50" stroke="#d8d8d8" stroke-width="1"/>
<rect x="152.50" y="1303.00" width="57.40" height="6.20" fill="#000"/>
<rect x="209.90" y="1298.70" width="57.70" height="10.50" fill="#fff" stroke="#000" stroke-width="1"/>
<rect x="352.90" y="1281.90" width="57.90" height="26.60" fill="#000"/>
<rect x="410.80" y="1169.80" width="57.60" height="138.70" fill="#fff" stroke="#000" stroke-width="1"/>
<text x="210.00" y="1334.00" font-family="Liberation Sans" font-size="13.5" font-weight="bold" text-anchor="middle" fill="#000" textLength="57.50" lengthAdjust="spacingAndGlyphs" stroke="#000" stroke-width="0.45">Medium</text>
<text x="411.00" y="1334.00" font-family="Liberation Sans" font-size="13.5" font-weight="bold" text-anchor="middle" fill="#000" textLength="27.20" lengthAdjust="spacingAndGlyphs" stroke="#000" stroke-width="0.45">LPS</text>
</svg>
</body></html>
